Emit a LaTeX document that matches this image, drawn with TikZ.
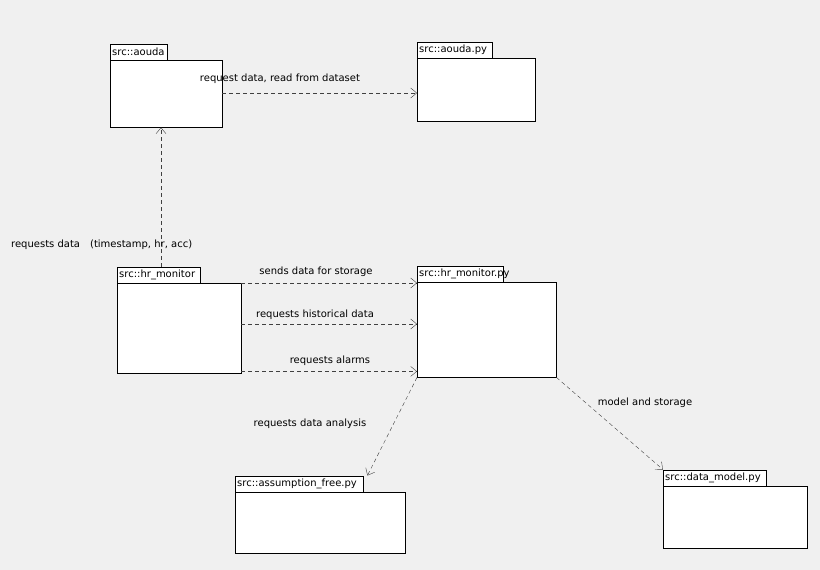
\documentclass[tikz,border=0pt]{standalone}
\usepackage{fontspec}
\setmainfont{DejaVu Sans}
\usetikzlibrary{arrows.meta}
\begin{document}
\begin{tikzpicture}[x=1pt,y=1pt,yscale=-1,
  font=\fontsize{10}{11}\selectfont,
  pkgbody/.style={draw,fill=white,anchor=north west,inner sep=0pt},
  pkgtab/.style={draw,fill=white,anchor=south west,inner xsep=2pt,inner ysep=0pt,
    minimum height=16pt,text width=#1-4pt,align=left},
  dep/.style={draw=black!75,dash pattern=on 4pt off 3pt,-{Straight Barb[length=6pt,width=10pt]}},
  lbl/.style={inner sep=1pt}]
%background
\fill[black!6] (0,0) rectangle (820,570);
\useasboundingbox (0,0) rectangle (820,570);

%packages
\node[pkgbody,minimum width=112pt,minimum height=67pt] (aouda) at (110,60) {};
\node[pkgtab=57pt] (aoudatab) at (aouda.north west) {src::aouda};
\node[pkgbody,minimum width=118pt,minimum height=63pt] (aoudapy) at (417,58) {};
\node[pkgtab=75pt] (aoudapytab) at (aoudapy.north west) {src::aouda.py};
\node[pkgbody,minimum width=124pt,minimum height=90pt] (hrm) at (117,283) {};
\node[pkgtab=83pt] (hrmtab) at (hrm.north west) {src::hr\_monitor};
\node[pkgbody,minimum width=139pt,minimum height=95pt] (hrpy) at (417,282) {};
\node[pkgtab=86pt] (hrpytab) at (hrpy.north west) {src::hr\_monitor.py};
\node[pkgbody,minimum width=170pt,minimum height=61pt] (assump) at (235,492) {};
\node[pkgtab=128pt] (assumptab) at (assump.north west) {src::assumption\_free.py};
\node[pkgbody,minimum width=144pt,minimum height=62pt] (dmodel) at (663,486) {};
\node[pkgtab=103pt] (dmodeltab) at (dmodel.north west) {src::data\_model.py};

%dependencies
\draw[dep] ([yshift=33pt]aouda.north east) -- ([yshift=33pt]aouda.north east -| aoudapy.west);
\node[lbl] (l1) at (280,79) {request data, read from dataset};
\draw[dep] (hrmtab.north -| 161,0) -- (aouda.south -| 161,0);
\node[lbl,anchor=west] (l2) at (10,245) {requests data\quad (timestamp, hr, acc)};
\draw[dep] (hrm.north east) -- (hrm.north east -| hrpy.west);
\node[lbl] (l3) at (316,272) {sends data for storage};
\draw[dep] ([yshift=41pt]hrm.north east) -- ([yshift=41pt]hrm.north east -| hrpy.west);
\node[lbl] (l4) at (315,315) {requests historical data};
\draw[dep] ([yshift=-2pt]hrm.south east) -- ([yshift=-2pt]hrm.south east -| hrpy.west);
\node[lbl] (l5) at (330,361) {requests alarms};
\draw[dep] (hrpy.south west) -- ([xshift=4pt]assumptab.north east);
\node[lbl] (l6) at (310,424) {requests data analysis};
\draw[dep] (hrpy.south east) -- (dmodeltab.north west);
\node[lbl] (l7) at (645,403) {model and storage};
\end{tikzpicture}
\end{document}
